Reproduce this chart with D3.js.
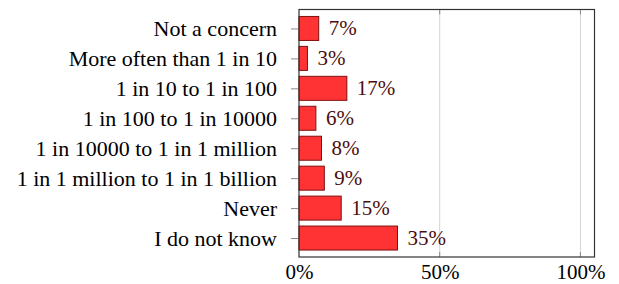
<!DOCTYPE html>
<html>
<head>
<meta charset="utf-8">
<script src="https://cdn.jsdelivr.net/npm/d3@7"></script>
<style>
  body { margin: 0; background: white; }
  text { font-family: "Liberation Serif", "Times New Roman", serif; }
</style>
</head>
<body>
<div id="chart"></div>
<script>
const categories = [
    "Not a concern",
    "More often than 1 in 10",
    "1 in 10 to 1 in 100",
    "1 in 100 to 1 in 10000",
    "1 in 10000 to 1 in 1 million",
    "1 in 1 million to 1 in 1 billion",
    "Never",
    "I do not know"
]
const shares = [7, 3, 17, 6, 8, 9, 15, 35]
const xTicks = [0, 50, 100]

const margin = { top: 9.5, right: 24.5, bottom: 27, left: 299 }
const width = 619 - margin.left - margin.right,
    height = 284 - margin.top - margin.bottom;

const svg = d3.select("#chart")
    .append("svg")
    .attr("width", 619)
    .attr("height", 284)
    .append("g")
    .attr("transform", "translate(" + margin.left + "," + margin.top + ")")

const x = d3.scaleLinear().domain([0, 105]).range([0, width])
const y = d3.scalePoint().domain(categories).range([0, height]).padding(0.633)
const barH = 24

// light grid lines
svg.selectAll(".grid")
    .data(xTicks.slice(1))
    .enter().append("line")
    .attr("x1", d => x(d)).attr("x2", d => x(d))
    .attr("y1", 0).attr("y2", height)
    .attr("stroke", "#d4d4d4")
    .attr("stroke-width", 1)

// small ticks inside top and bottom
xTicks.slice(1).forEach(function (t) {
    svg.append("line").attr("x1", x(t)).attr("x2", x(t)).attr("y1", 0).attr("y2", 5)
        .attr("stroke", "#8a8a8a").attr("stroke-width", 1)
    svg.append("line").attr("x1", x(t)).attr("x2", x(t)).attr("y1", height - 5).attr("y2", height)
        .attr("stroke", "#8a8a8a").attr("stroke-width", 1)
})

// bars
svg.selectAll(".bar")
    .data(shares)
    .enter().append("rect")
    .attr("x", 0)
    .attr("y", (d, i) => y(categories[i]) - barH / 2)
    .attr("width", d => x(d))
    .attr("height", barH)
    .attr("fill", "#ff3333")
    .attr("stroke", "#7f1010")
    .attr("stroke-width", 1)

// value labels
svg.selectAll(".val")
    .data(shares)
    .enter().append("text")
    .attr("x", d => x(d) + 10)
    .attr("y", (d, i) => y(categories[i]) + 7)
    .attr("fill", "#4d0d0d")
    .style("font-size", "21px")
    .text(d => d + "%")

// y axis
const yAxis = d3.axisLeft(y).tickSize(8).tickPadding(14)
const gy = svg.append("g").call(yAxis)
gy.select(".domain").remove()
gy.selectAll("line").attr("stroke", "#8a8a8a")
gy.selectAll("text").style("font-size", "22px").attr("fill", "black").attr("dy", "0.33em")

// x axis labels
const xAxis = d3.axisBottom(x).tickValues(xTicks).tickSize(0).tickPadding(7)
    .tickFormat(d => d + "%")
const gx = svg.append("g")
    .attr("transform", "translate(0," + height + ")")
    .call(xAxis)
gx.select(".domain").remove()
gx.selectAll("text").style("font-size", "21px").attr("fill", "black")

// frame
svg.append("rect")
    .attr("x", 0).attr("y", 0)
    .attr("width", width).attr("height", height)
    .attr("fill", "none")
    .attr("stroke", "#333")
    .attr("stroke-width", 1.2)
</script>
</body>
</html>
